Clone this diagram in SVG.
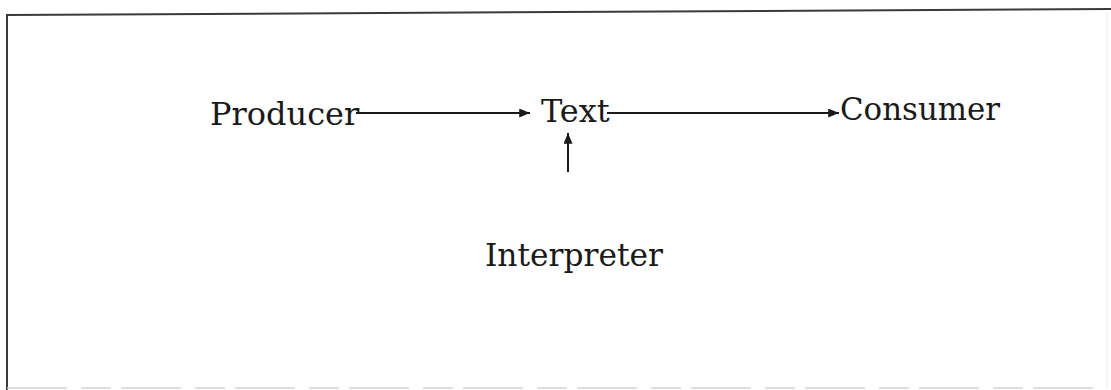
<svg xmlns="http://www.w3.org/2000/svg" width="1111" height="390" viewBox="0 0 1111 390">
  <style>
    .lbl { font-family: "DejaVu Serif", "Liberation Serif", serif; font-size: 32px; fill: #1a1a1a; }
    .edge { stroke: #1a1a1a; stroke-width: 2; fill: none; }
  </style>
  <defs>
    <!-- filled triangular arrowhead shared by all connectors -->
    <marker id="head" viewBox="0 0 12 10" refX="12" refY="5" markerWidth="12" markerHeight="9" orient="auto" markerUnits="userSpaceOnUse">
      <path d="M0,0 L12,5 L0,10 Z" fill="#1a1a1a"/>
    </marker>
  </defs>
  <rect width="1111" height="390" fill="#ffffff"/>
  <!-- frame -->
  <g id="frame">
    <line x1="7" y1="15" x2="1111" y2="9" stroke="#3a3a3a" stroke-width="2"/>
    <line x1="7" y1="14" x2="7" y2="390" stroke="#3a3a3a" stroke-width="2"/>
    <line x1="1107" y1="12" x2="1107" y2="388" stroke="#ececec" stroke-width="1"/>
    <line x1="7" y1="388" x2="1107" y2="388" stroke="#d4d4d4" stroke-width="1.5" stroke-dasharray="60 14 30 10"/>
  </g>
  <g id="connectors">
    <line class="edge" x1="356" y1="113" x2="530" y2="113" marker-end="url(#head)"/>
    <line class="edge" x1="607" y1="113" x2="839" y2="113" marker-end="url(#head)"/>
    <line class="edge" x1="568" y1="172" x2="568" y2="133" marker-end="url(#head)"/>
  </g>
  <g id="producer"><text class="lbl" x="210" y="125">Producer</text></g>
  <g id="text"><text class="lbl" x="541" y="122">Text</text></g>
  <g id="consumer"><text class="lbl" x="840" y="120" textLength="160" lengthAdjust="spacingAndGlyphs">Consumer</text></g>
  <g id="interpreter"><text class="lbl" x="485" y="266" textLength="178" lengthAdjust="spacingAndGlyphs">Interpreter</text></g>
</svg>
